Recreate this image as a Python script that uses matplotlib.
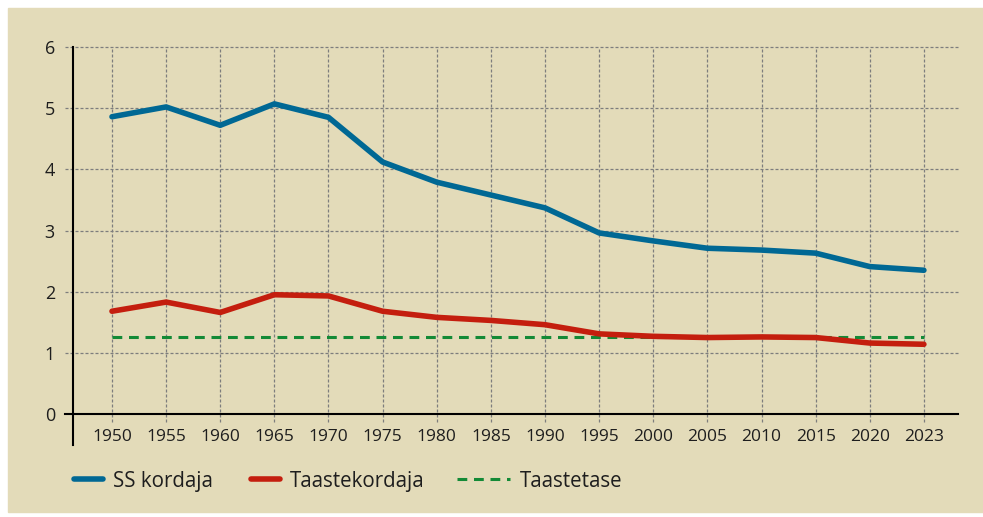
import matplotlib
matplotlib.use("Agg")
import matplotlib.pyplot as plt
from matplotlib.lines import Line2D
from matplotlib.patches import Rectangle

# data
years = ["1950", "1955", "1960", "1965", "1970", "1975", "1980", "1985",
         "1990", "1995", "2000", "2005", "2010", "2015", "2020", "2023"]
ss_kordaja = [4.86, 5.02, 4.72, 5.07, 4.85, 4.12, 3.79, 3.58,
              3.37, 2.96, 2.83, 2.71, 2.68, 2.63, 2.41, 2.35]
taastekordaja = [1.68, 1.83, 1.66, 1.95, 1.93, 1.68, 1.58, 1.53,
                 1.46, 1.31, 1.27, 1.25, 1.26, 1.25, 1.16, 1.14]
taastetase = 1.26
labels = ["SS kordaja", "Taastekordaja", "Taastetase"]

BG = "#E3DBB9"
BLUE = "#006894"
RED = "#C41E0E"
GREEN = "#138A36"
GRID = "#7d7d7d"
TXT = "#1e1e1e"

plt.rcParams["font.family"] = ["Open Sans", "DejaVu Sans"]

W, H = 983, 517
fig = plt.figure(figsize=(W / 100, H / 100), dpi=100, facecolor="white")
fig.patches.append(Rectangle((8 / W, 5 / H), 1 - 8 / W, 1 - 13 / H,
                             transform=fig.transFigure, color=BG, zorder=-5))

ax = fig.add_axes([73 / W, 103 / H, 885 / W, 367 / H])
ax.set_facecolor("none")
for s in ax.spines.values():
    s.set_visible(False)

x = list(range(len(years)))
ax.set_xlim(-0.72, len(years) - 1 + 0.63)
ax.set_ylim(0, 6)

# grid lines (extend slightly past the axes like the original)
grid_dash = (0, (2.4, 1.6))
ytr = ax.get_yaxis_transform()
xtr = ax.get_xaxis_transform()
for v in range(1, 7):
    ax.plot([-0.009, 1], [v, v], transform=ytr, color=GRID, lw=0.9,
            ls=grid_dash, clip_on=False, zorder=1)
for i in x:
    ax.plot([i, i], [-0.022, 1], transform=xtr, color=GRID, lw=0.9,
            ls=grid_dash, clip_on=False, zorder=1)
# zero line and y axis line
ax.plot([-0.009, 1], [0, 0], transform=ytr, color="black", lw=1.5,
        clip_on=False, zorder=2)
ax.plot([0, 0], [-0.085, 1], transform=ax.transAxes, color="black", lw=1.5,
        clip_on=False, zorder=2)

ax.plot(x, ss_kordaja, color=BLUE, lw=4.0, solid_capstyle="round",
        solid_joinstyle="round", zorder=4)
ax.plot(x, taastekordaja, color=RED, lw=4.0, solid_capstyle="round",
        solid_joinstyle="round", zorder=4)
ax.plot([x[0], x[-1]], [taastetase, taastetase], color=GREEN, lw=2.2,
        ls=(0, (3.2, 2.2)), zorder=3)

ax.set_xticks(x)
ax.set_xticklabels(years)
ax.set_yticks(range(0, 7))
ax.tick_params(axis="x", length=0, pad=11, labelsize=12.5, labelcolor=TXT)
ax.tick_params(axis="y", length=0, pad=13, labelsize=13, labelcolor=TXT)

# legend drawn along the bottom
ly = 1 - 479 / H
handles = [
    (74, 103, dict(color=BLUE, lw=4.0, solid_capstyle="round")),
    (251, 280, dict(color=RED, lw=4.0, solid_capstyle="round")),
    (457, 510, dict(color=GREEN, lw=2.2, ls=(0, (3.2, 2.2)))),
]
text_x = [113, 290, 520]
for (x0, x1, kw), tx, lab in zip(handles, text_x, labels):
    fig.add_artist(Line2D([x0 / W, x1 / W], [ly, ly],
                          transform=fig.transFigure, **kw))
    fig.text(tx / W, ly, lab, fontsize=14.8, color=TXT, va="center_baseline",
             ha="left")

fig.savefig("out.png", dpi=100, facecolor="white")
